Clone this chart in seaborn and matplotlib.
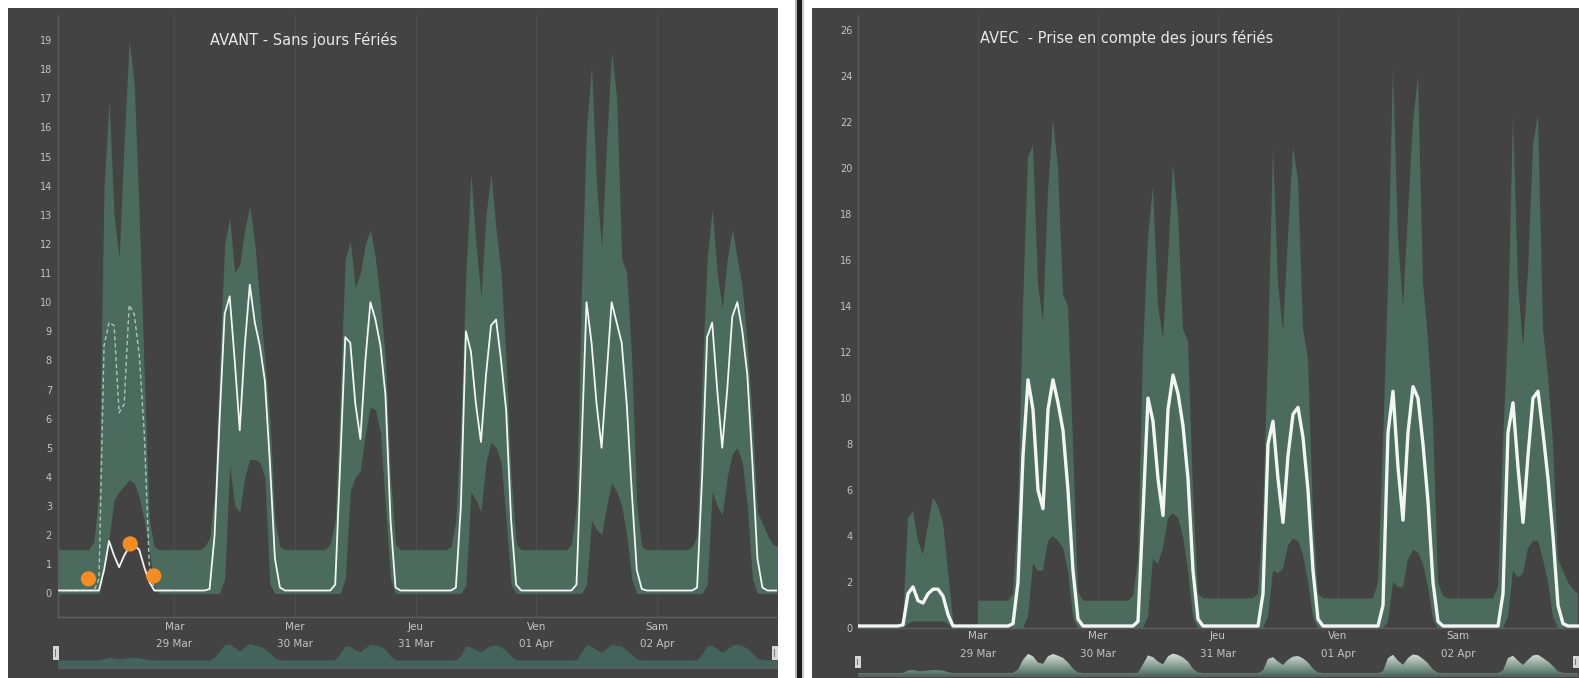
import numpy as np
import pandas as pd
import matplotlib
matplotlib.use('Agg')
import matplotlib.pyplot as plt
from matplotlib.patches import Rectangle
from matplotlib.colors import LinearSegmentedColormap
import seaborn as sns

################################################################################
# Donnees lues sur les deux captures (une valeur par heure, depuis le 28/03 00h)

nan = float('nan')

heures = list(range(145))

jours_pos = [24, 48, 72, 96, 120]
jours_labels = ['Mar\n29 Mar', 'Mer\n30 Mar', 'Jeu\n31 Mar', 'Ven\n01 Apr', 'Sam\n02 Apr']

# AVANT - sans jours feries
avant_haut = [
    1.5, 1.5, 1.5, 1.5, 1.5, 1.5, 1.5, 1.5, 1.8, 3.5, 14.0, 16.9, 13.0, 11.5, 15.5, 19.0, 17.5, 13.0, 7.5, 2.5, 1.6, 1.5, 1.5, 1.5,
    1.5, 1.5, 1.5, 1.5, 1.5, 1.5, 1.6, 1.9, 3.5, 8.0, 12.0, 12.9, 11.0, 11.3, 12.5, 13.3, 12.0, 10.0, 8.0, 6.0, 2.5, 1.6, 1.5, 1.5,
    1.5, 1.5, 1.5, 1.5, 1.5, 1.5, 1.5, 1.7, 2.5, 7.0, 11.5, 12.1, 10.5, 11.0, 12.0, 12.5, 11.5, 10.0, 8.0, 4.0, 1.7, 1.5, 1.5, 1.5,
    1.5, 1.5, 1.5, 1.5, 1.5, 1.5, 1.5, 1.6, 2.5, 6.0, 11.0, 14.4, 12.0, 10.2, 13.0, 14.4, 12.5, 11.0, 8.0, 4.0, 1.7, 1.5, 1.5, 1.5,
    1.5, 1.5, 1.5, 1.5, 1.5, 1.5, 1.5, 1.7, 3.0, 10.5, 16.0, 18.1, 14.0, 11.9, 15.5, 18.6, 17.0, 11.5, 11.0, 8.0, 3.0, 1.6, 1.5, 1.5,
    1.5, 1.5, 1.5, 1.5, 1.5, 1.5, 1.5, 1.6, 2.0, 7.5, 11.5, 13.2, 11.0, 9.8, 11.5, 12.5, 11.5, 10.5, 8.5, 6.0, 2.8, 2.4, 2.0, 1.7,
    1.6,
]
avant_bas = [
    0, 0, 0, 0, 0, 0, 0, 0, 0, 0, 1.0, 1.9, 3.2, 3.5, 3.7, 3.9, 3.8, 3.3, 2.5, 1.5, 0.2, 0, 0, 0,
    0, 0, 0, 0, 0, 0, 0, 0, 0, 0, 0.5, 4.4, 3.0, 2.8, 4.0, 4.6, 4.6, 4.5, 4.0, 0.3, 0, 0, 0, 0,
    0, 0, 0, 0, 0, 0, 0, 0, 0, 0, 0.5, 3.5, 4.0, 4.2, 5.5, 6.4, 6.3, 5.5, 3.0, 0.5, 0, 0, 0, 0,
    0, 0, 0, 0, 0, 0, 0, 0, 0, 0, 0.3, 3.5, 3.2, 2.8, 4.5, 5.2, 5.0, 4.5, 2.5, 0.3, 0, 0, 0, 0,
    0, 0, 0, 0, 0, 0, 0, 0, 0, 0, 0.3, 2.5, 2.2, 2.0, 3.0, 3.8, 3.5, 3.0, 2.0, 0.5, 0, 0, 0, 0,
    0, 0, 0, 0, 0, 0, 0, 0, 0, 0, 0.3, 3.5, 3.0, 2.7, 4.0, 4.8, 5.0, 4.5, 3.0, 0.5, 0, 0, 0, 0,
    0,
]
avant_reel = [
    0.1, 0.1, 0.1, 0.1, 0.1, 0.1, 0.1, 0.1, 0.1, 0.1, 0.8, 1.8, 1.3, 0.9, 1.3, 1.6, 1.65, 1.5, 0.9, 0.4, 0.1, 0.1, 0.1, 0.1,
    0.1, 0.1, 0.1, 0.1, 0.1, 0.1, 0.1, 0.15, 2.0, 6.0, 9.6, 10.2, 8.0, 5.6, 8.5, 10.6, 9.3, 8.5, 7.3, 4.5, 1.2, 0.2, 0.1, 0.1,
    0.1, 0.1, 0.1, 0.1, 0.1, 0.1, 0.1, 0.1, 0.3, 4.5, 8.8, 8.6, 6.5, 5.3, 8.0, 10.0, 9.4, 8.5, 6.8, 2.5, 0.2, 0.1, 0.1, 0.1,
    0.1, 0.1, 0.1, 0.1, 0.1, 0.1, 0.1, 0.1, 0.2, 3.0, 9.0, 8.3, 6.5, 5.2, 7.5, 9.2, 9.4, 8.0, 6.3, 2.5, 0.3, 0.1, 0.1, 0.1,
    0.1, 0.1, 0.1, 0.1, 0.1, 0.1, 0.1, 0.1, 0.3, 5.0, 10.0, 8.6, 6.5, 5.0, 7.5, 10.0, 9.3, 8.6, 6.5, 3.5, 0.8, 0.15, 0.1, 0.1,
    0.1, 0.1, 0.1, 0.1, 0.1, 0.1, 0.1, 0.1, 0.2, 4.0, 8.8, 9.3, 7.0, 5.0, 7.0, 9.5, 10.0, 9.0, 7.5, 4.5, 1.2, 0.2, 0.1, 0.1,
    0.1,
]
# courbe attendue (pointillee) du lundi ferie, heures 0 a 24
avant_attendu = [
    0.1, 0.1, 0.1, 0.1, 0.1, 0.1, 0.1, 0.1, 0.1, 0.5, 8.5, 9.3, 9.2, 6.2, 6.5, 9.9, 9.6, 8.2, 5.5, 1.0, 0.1, 0.1, 0.1, 0.1,
    0.1,
]
anomalies_h = [6.9, 15.2, 19.9]
anomalies_val = [0.5, 1.7, 0.6]

# AVEC - prise en compte des jours feries
avec_haut = [
    nan, nan, nan, nan, nan, nan, nan, nan, nan, 0.3, 4.8, 5.1, 3.8, 3.2, 4.5, 5.7, 5.3, 4.6, 2.5, 0.4, nan, nan, nan, nan,
    1.2, 1.2, 1.2, 1.2, 1.2, 1.2, 1.2, 1.5, 5.0, 14.0, 20.5, 21.0, 15.0, 13.3, 19.0, 22.1, 20.0, 14.5, 14.0, 8.0, 1.6, 1.2, 1.2, 1.2,
    1.2, 1.2, 1.2, 1.2, 1.2, 1.2, 1.2, 1.4, 3.0, 12.0, 17.0, 19.2, 14.0, 12.6, 16.0, 20.2, 18.0, 13.0, 12.5, 6.0, 1.5, 1.3, 1.3, 1.3,
    1.3, 1.3, 1.3, 1.3, 1.3, 1.3, 1.3, 1.3, 1.5, 5.0, 12.0, 20.9, 15.0, 12.9, 17.0, 20.9, 19.5, 13.0, 11.7, 5.0, 1.5, 1.3, 1.3, 1.3,
    1.3, 1.3, 1.3, 1.3, 1.3, 1.3, 1.3, 1.3, 2.0, 8.0, 15.0, 24.4, 17.0, 14.0, 18.0, 22.0, 24.0, 15.0, 12.6, 9.0, 2.0, 1.4, 1.3, 1.3,
    1.3, 1.3, 1.3, 1.3, 1.3, 1.3, 1.3, 1.3, 1.8, 8.0, 13.0, 22.3, 15.0, 12.2, 15.5, 21.0, 22.3, 13.0, 11.0, 8.0, 3.0, 2.5, 2.0, 1.7,
    1.5,
]
avec_bas = [
    nan, nan, nan, nan, nan, nan, nan, nan, nan, 0.0, 0.2, 0.3, 0.3, 0.3, 0.3, 0.3, 0.3, 0.3, 0.2, 0.0, nan, nan, nan, nan,
    0, 0, 0, 0, 0, 0, 0, 0, 0, 0, 0.5, 2.8, 2.5, 2.5, 3.8, 4.0, 3.8, 3.5, 2.5, 0.5, 0, 0, 0, 0,
    0, 0, 0, 0, 0, 0, 0, 0, 0, 0, 0.5, 3.0, 2.8, 3.5, 4.8, 5.0, 4.8, 4.0, 2.5, 0.5, 0, 0, 0, 0,
    0, 0, 0, 0, 0, 0, 0, 0, 0, 0, 0.5, 2.5, 2.4, 2.6, 3.6, 3.9, 3.8, 3.2, 2.0, 0.5, 0, 0, 0, 0,
    0, 0, 0, 0, 0, 0, 0, 0, 0, 0, 0.3, 2.0, 1.8, 1.8, 3.0, 3.4, 3.3, 2.8, 1.8, 0.4, 0, 0, 0, 0,
    0, 0, 0, 0, 0, 0, 0, 0, 0, 0, 0.5, 2.5, 2.2, 2.4, 3.5, 3.8, 3.8, 3.0, 2.0, 0.5, 0, 0, 0, 0,
    0,
]
avec_reel = [
    0.1, 0.1, 0.1, 0.1, 0.1, 0.1, 0.1, 0.1, 0.1, 0.15, 1.5, 1.8, 1.2, 1.1, 1.5, 1.7, 1.7, 1.4, 0.6, 0.1, 0.1, 0.1, 0.1, 0.1,
    0.1, 0.1, 0.1, 0.1, 0.1, 0.1, 0.1, 0.2, 2.0, 7.5, 10.8, 9.5, 6.0, 5.2, 9.5, 10.8, 9.8, 8.6, 6.0, 2.5, 0.4, 0.1, 0.1, 0.1,
    0.1, 0.1, 0.1, 0.1, 0.1, 0.1, 0.1, 0.1, 0.3, 5.0, 10.0, 9.0, 6.5, 4.9, 9.5, 11.0, 10.2, 8.8, 6.5, 2.5, 0.4, 0.1, 0.1, 0.1,
    0.1, 0.1, 0.1, 0.1, 0.1, 0.1, 0.1, 0.1, 0.1, 1.5, 8.0, 9.0, 6.5, 4.6, 7.5, 9.3, 9.6, 8.3, 6.0, 2.5, 0.4, 0.1, 0.1, 0.1,
    0.1, 0.1, 0.1, 0.1, 0.1, 0.1, 0.1, 0.1, 0.1, 1.0, 8.5, 10.3, 7.0, 4.7, 8.5, 10.5, 10.0, 8.0, 5.5, 2.0, 0.3, 0.1, 0.1, 0.1,
    0.1, 0.1, 0.1, 0.1, 0.1, 0.1, 0.1, 0.1, 0.1, 1.5, 8.5, 9.8, 7.0, 4.6, 7.5, 10.0, 10.3, 8.5, 6.5, 4.0, 1.0, 0.2, 0.1, 0.1,
    0.1,
]

################################################################################

W, H = 1579, 678
FOND = '#434343'
VERT = '#4a6b5d'
TEXTE = '#c4c4c4'
AXE = '#5e5e5e'

df_avant = pd.DataFrame({'heure': heures, 'bas': avant_bas, 'haut': avant_haut, 'reel': avant_reel})
df_avec = pd.DataFrame({'heure': heures, 'bas': avec_bas, 'haut': avec_haut, 'reel': avec_reel})
df_attendu = pd.DataFrame({'heure': heures[:25], 'attendu': avant_attendu})
df_anom = pd.DataFrame({'heure': anomalies_h, 'valeur': anomalies_val})

fig = plt.figure(figsize=(W / 100, H / 100), dpi=100, facecolor='white')


def boite(x0, y0, x1, y1):
    return [x0 / W, 1 - y1 / H, (x1 - x0) / W, (y1 - y0) / H]


def rect(x0, y0, x1, y1, couleur, z=-10):
    fig.patches.append(Rectangle((x0 / W, 1 - y1 / H), (x1 - x0) / W, (y1 - y0) / H,
                                 transform=fig.transFigure, facecolor=couleur,
                                 edgecolor='none', zorder=z))


# fonds des deux captures et separateur
rect(8, 8, 778, 678, FOND)
rect(812, 8, 1579, 678, FOND)
rect(795, 0, 797.5, 678, '#b4b4b4')
rect(797.5, 0, 802, 678, '#1c1c1c')
rect(802, 0, 804, 678, '#c8c8c8')


def panneau(ax, df, xlim, ylim, yticks, lw_reel, pad_x):
    ax.set_facecolor(FOND)
    ax.fill_between(df['heure'], df['bas'], df['haut'], color=VERT, lw=0, zorder=2)
    sns.lineplot(data=df, x='heure', y='reel', ax=ax, color='#f2f6f3', lw=lw_reel, zorder=4)

    ax.set_xlim(*xlim)
    ax.set_ylim(*ylim)
    ax.set_yticks(yticks)
    ax.set_xticks(jours_pos, labels=jours_labels)
    ax.grid(axis='x', color='#4e4e4e', lw=0.9)
    ax.set_axisbelow(True)
    ax.set(xlabel='', ylabel='')

    for cote in ['top', 'right']:
        ax.spines[cote].set_visible(False)
    for cote in ['left', 'bottom']:
        ax.spines[cote].set_color(AXE)
        ax.spines[cote].set_linewidth(1.0)

    ax.tick_params(axis='both', length=0, colors=TEXTE)
    ax.tick_params(axis='y', pad=4, labelsize=7)
    ax.tick_params(axis='x', pad=pad_x, labelsize=7.5)
    for lbl in ax.get_xticklabels():
        lbl.set_linespacing(1.95)


def navigateur(ax, df, xlim, ylim, degrade):
    ax.set_facecolor('none')
    poly = ax.fill_between(df['heure'], ylim[0], df['reel'],
                           color='#43645a' if not degrade else 'none', lw=0)
    if degrade:
        cmap = LinearSegmentedColormap.from_list('nav', ['#4a6b5d', '#dfe8e2'])
        grad = np.linspace(1, 0, 100).reshape(-1, 1)
        im = ax.imshow(grad, extent=[xlim[0], xlim[1], ylim[0], 11.5], aspect='auto',
                       cmap=cmap, origin='upper', zorder=2)
        im.set_clip_path(poly.get_paths()[0], transform=ax.transData)
    ax.set_xlim(*xlim)
    ax.set_ylim(*ylim)
    ax.set_xticks([])
    ax.set_yticks([])
    for cote in ['top', 'right', 'left']:
        ax.spines[cote].set_visible(False)
    ax.spines['bottom'].set_color(AXE)


# ---------------------------------------------------------------- AVANT
ax_l = fig.add_axes(boite(57.5, 15, 777, 617))
ax_l.set_zorder(3)
panneau(ax_l, df_avant, (0.74, 143.9), (-0.81, 19.86), list(range(0, 20)), 1.3, 3.5)
sns.lineplot(data=df_attendu, x='heure', y='attendu', ax=ax_l, color='#a9c9b5',
             lw=1.0, linestyle=(0, (3, 2)), zorder=3)
sns.scatterplot(data=df_anom, x='heure', y='valeur', ax=ax_l, s=120,
                color='#f68b1f', edgecolor='none', zorder=5)
ax_l.set(xlabel='', ylabel='')

nav_l = fig.add_axes(boite(57.5, 641, 777, 668))
nav_l.set_zorder(2)
navigateur(nav_l, df_avant, (0.74, 143.9), (-4.9, 12.0), False)

# ---------------------------------------------------------------- AVEC
ax_r = fig.add_axes(boite(858, 15, 1579, 628.3))
ax_r.set_zorder(3)
panneau(ax_r, df_avec, (0, 144.2), (0, 26.65), list(range(0, 27, 2)), 2.4, 2.0)

nav_r = fig.add_axes(boite(858, 650, 1579, 676))
nav_r.set_zorder(2)
navigateur(nav_r, df_avec, (0, 144.2), (-1.6, 13.0), True)

# poignees des navigateurs
for x0, y0, x1, y1 in [(53, 646, 59, 660), (772, 646, 778, 660),
                       (855, 656, 861, 668), (1573, 656, 1579, 668)]:
    rect(x0, y0, x1, y1, '#d6d6d6', z=10)
    rect(x0 + 2.3, y0 + 3, x0 + 3.3, y1 - 3, '#777777', z=11)

# titres
fig.text(210 / W, 1 - 40 / H, 'AVANT - Sans jours Fériés', ha='left', va='center',
         fontsize=10.5, color='#e8e8e8', zorder=20)
fig.text(980 / W, 1 - 38 / H, 'AVEC  - Prise en compte des jours fériés', ha='left',
         va='center', fontsize=10.5, color='#e8e8e8', zorder=20)

fig.savefig('out.png', dpi=100, facecolor='white')
